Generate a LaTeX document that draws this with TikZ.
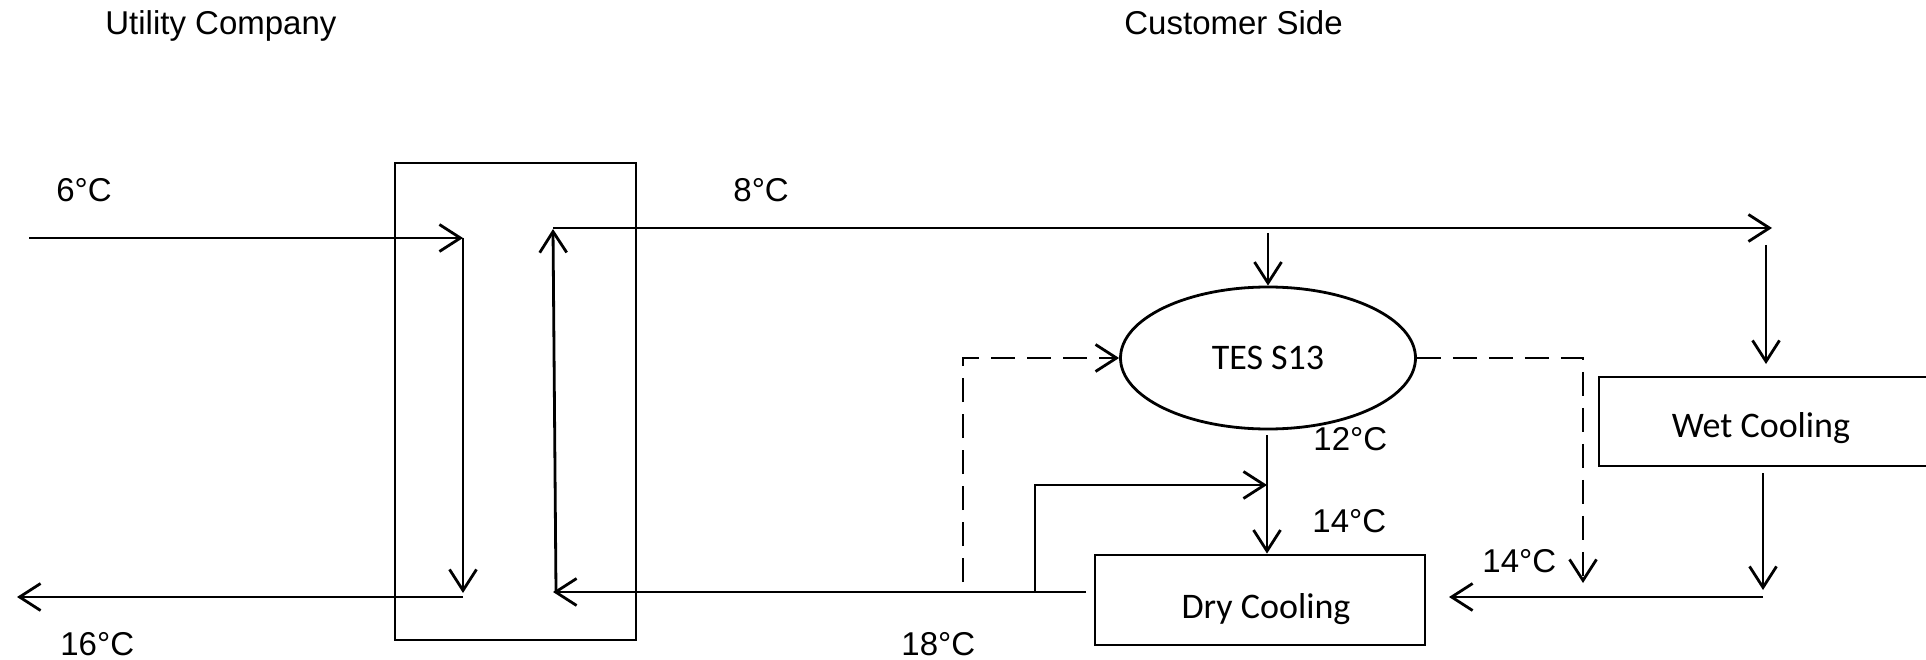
\documentclass[tikz,border=0pt]{standalone}
\usepackage{fontspec}
\setmainfont{Liberation Sans}
\newfontfamily\calfont{Carlito}
\usetikzlibrary{arrows.meta,shapes.geometric}
\begin{document}
\begin{tikzpicture}[x=1pt,y=-1pt,
  line width=2.8pt,
  arr/.style={-{Straight Barb[length=21pt,width=27pt,line width=2.8pt]}},
  dsh/.style={dash pattern=on 24pt off 12pt},
  box/.style={draw,rectangle,inner sep=0pt},
  lbl/.style={font=\fontsize{33}{40}\selectfont,inner sep=0pt,anchor=base west},
  clbl/.style={font=\calfont\fontsize{36}{43}\selectfont,inner sep=0pt,anchor=base},
]
\useasboundingbox (0,0) rectangle (1926,660);
\clip (0,0) rectangle (1926,660);

% titles
\node[lbl] (tutil) at (104,35) {Utility Company};
\node[lbl] (tcust) at (1123,35) {Customer Side};

% shapes
\node[box,minimum width=241pt,minimum height=477pt] (hx) at (515.5,401.5) {};
\node[draw,ellipse,inner sep=0pt,minimum width=295pt,minimum height=142pt,
      font=\calfont\fontsize{36}{43}\selectfont] (tes) at (1268,358) {TES S13};
\node[box,minimum width=330pt,minimum height=90pt] (dry) at (1260,600) {};
\node[clbl] (drylbl) at (1266,618) {Dry Cooling};
\node[box,minimum width=401pt,minimum height=89pt] (wet) at (1799.5,421.5) {};
\node[clbl] (wetlbl) at (1761,437) {Wet Cooling};

% temperature labels
\node[lbl] (t6) at (55,202) {6°C};
\node[lbl] (t16) at (59,655) {16°C};
\node[lbl] (t8) at (732,202) {8°C};
\node[lbl] (t12) at (1312,450) {12°C};
\node[lbl] (t14a) at (1311,532) {14°C};
\node[lbl] (t14b) at (1481,572) {14°C};
\node[lbl] (t18) at (900,655) {18°C};

% coordinates
\coordinate (inA) at (29,238);
\coordinate (inB) at (463,238);
\coordinate (dnB) at (463,593);
\coordinate (outA) at (463,597);
\coordinate (outB) at (17,597);
\coordinate (upA) at (556,592);
\coordinate (upB) at (553,229);
\coordinate (topA) at (553,228);
\coordinate (topB) at (1772,228);
\coordinate (tesIn) at (1268,233);
\coordinate (wetInA) at (1766,245);
\coordinate (wetInB) at (1766,364);
\coordinate (dlA) at (963,582);
\coordinate (drB) at (1583,583);
\coordinate (tesOut) at (1267,435);
\coordinate (byA) at (1035,592);
\coordinate (byB) at (1267,485);
\coordinate (dryOutA) at (1086,592);
\coordinate (dryOutB) at (553,592);
\coordinate (wetOutA) at (1763,473);
\coordinate (wetOutB) at (1763,590);
\coordinate (retA) at (1763,597);
\coordinate (retB) at (1449,597);

% utility side
\draw[arr] (inA) -- (inB);
\draw[arr] (inB) -- (dnB);
\draw[arr] (outA) -- (outB);
\draw[arr] (upA) -- (upB);
\draw[arr] (topA) -- (topB);
\draw[arr] (dryOutA) -- (dryOutB);

% customer side
\draw[arr] (tesIn) -- (tes.north);
\draw[arr] (wetInA) -- (wetInB);
\draw[arr,dsh] (dlA) |- (tes.west);
\draw[arr,dsh] (tes.east) -| (drB);
\draw[arr] (tesOut) -- (dry.north -| tesOut);
\draw[arr] (byA) |- (byB);
\draw[arr] (wetOutA) -- (wetOutB);
\draw[arr] (retA) -- (retB);
\end{tikzpicture}
\end{document}
